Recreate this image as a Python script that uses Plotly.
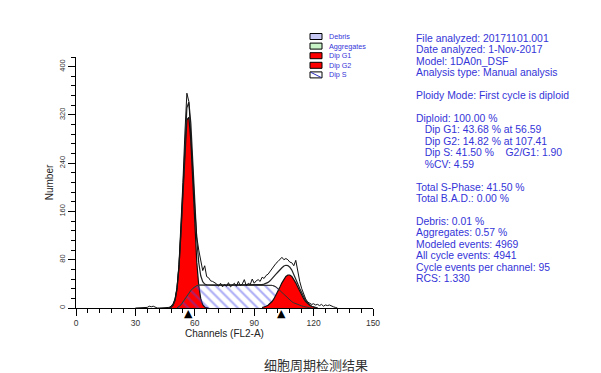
import plotly.graph_objects as go

# ---------------- data ----------------
data_start = 30
data_counts = [0, 0, 0, 0, 0, 0, 1, 3, 2, 3, 1, 0,             # 30-41
               0, 0, 0, 0, 0,                                  # 42-46
               1, 3, 7, 15, 34, 72, 132, 208, 290, 356, 342,   # 47-57
               292, 228, 165, 118, 96, 80, 62, 70, 52, 50,     # 58-67
               45, 44, 42, 40, 36, 41, 35, 39, 36, 42,         # 68-77
               35, 38, 41, 36, 44, 37, 40, 47, 37, 41,         # 78-87
               39, 48, 41, 45, 47, 44, 51, 49, 54, 56,         # 88-97
               61, 66, 70, 74, 77, 81, 84, 80, 82, 80,         # 98-107
               76, 75, 70, 79, 58, 44, 32, 22, 15, 10,         # 108-117
               8, 6, 7, 5, 6, 4, 6, 3, 5, 4,                   # 118-127
               5, 3, 2, 1, 0]                                  # 128-132

g1_start = 47
g1_counts = [0.3, 1.3, 4.5, 12.8, 31.4, 67, 123, 194, 265, 312, 316,
             277, 209, 136, 76, 37, 15.4, 5.6, 1.7, 0.5, 0]

s_start = 51
s_counts = [0, 2, 5, 10, 15, 20, 25, 29, 32.5, 35, 37, 38,          # 51-62
            38, 38, 38, 38, 38, 38, 38, 38, 38, 38,                 # 63-72
            38, 38, 38, 38, 38, 38, 38, 38, 38, 38,                 # 73-82
            38, 38, 38, 38, 38, 38, 38, 38, 38, 38,                 # 83-92
            38, 38, 38, 38, 38, 38,                                 # 93-98
            37.5, 36.5, 35, 32, 29, 25, 22, 18.5, 15.5, 13,         # 99-108
            10.5, 8.5, 7, 5.5, 4.5, 3.5, 2.5, 1.5, 1, 0.5, 0]       # 109-119

g2_start = 94
g2_counts = [0.9, 1.6, 2.8, 4.5, 7.1, 10.7, 15.4, 21.1, 27.7, 34.8, 41.7,
             47.7, 52.3, 54.7, 54.7, 52.3, 47.7, 41.7, 34.8, 27.7, 21.1,
             15.4, 10.7, 7.1, 4.5, 2.8, 1.6, 0.9, 0]

peak_markers = [56.59, 104]

x_ticks = [0, 30, 60, 90, 120, 150]
y_ticks = [0, 80, 160, 240, 320, 400]

legend_items = ["Debris", "Aggregates", "Dip G1", "Dip G2", "Dip S"]
legend_colors = ["#c8c8f4", "#c8f4c8", "#ff0000", "#ff0000", "#ffffff"]

stats_lines = [
    "File analyzed: 20171101.001",
    "Date analyzed: 1-Nov-2017",
    "Model: 1DA0n_DSF",
    "Analysis type: Manual analysis",
    "",
    "Ploidy Mode: First cycle is diploid",
    "",
    "Diploid: 100.00 %",
    "   Dip G1: 43.68 % at 56.59",
    "   Dip G2: 14.82 % at 107.41",
    "   Dip S: 41.50 %    G2/G1: 1.90",
    "   %CV: 4.59",
    "",
    "Total S-Phase: 41.50 %",
    "Total B.A.D.: 0.00 %",
    "",
    "Debris: 0.01 %",
    "Aggregates: 0.57 %",
    "Modeled events: 4969",
    "All cycle events: 4941",
    "Cycle events per channel: 95",
    "RCS: 1.330",
]
caption = "细胞周期检测结果"

# ---------------- derived ----------------
def chans(start, vals):
    return list(range(start, start + len(vals)))

data_x = chans(data_start, data_counts)
g1_x = chans(g1_start, g1_counts)
s_x = chans(s_start, s_counts)
g2_x = chans(g2_start, g2_counts)

model = {}
for xs, ys in ((g1_x, g1_counts), (s_x, s_counts), (g2_x, g2_counts)):
    for a, b in zip(xs, ys):
        model[a] = model.get(a, 0) + b
model_x = sorted(model)
model_y = [model[k] for k in model_x]

# ---------------- layout geometry ----------------
# page has an 8px body margin: work in page pixels and convert
OFF = 8
PAGE_W, PAGE_H = 601, 373
W, H = PAGE_W - OFF, PAGE_H - OFF
PL, PR, PT, PB = 76, 373, 57, 308          # plot area in page pixels
L, T = PL - OFF, PT - OFF
R = W - (PR - OFF)
B = H - (PB - OFF)
PW, PH = PR - PL, PB - PT


def pxx(x):
    return (x - PL) / PW


def pxy(y):
    return (PB - y) / PH


FONT = "Arial, Liberation Sans, sans-serif"
BLUE = "#3434d8"

fig = go.Figure()

# G1 component
fig.add_trace(go.Scatter(x=g1_x, y=g1_counts, mode="lines", fill="tozeroy",
                         fillcolor="#ff0000", line=dict(color="#111", width=1.2),
                         hoverinfo="skip"))
# S component hatched
fig.add_trace(go.Scatter(x=s_x, y=s_counts, mode="lines", fill="tozeroy",
                         fillcolor="rgba(0,0,0,0)",
                         fillpattern=dict(shape="\\", fgcolor="rgba(70,70,235,0.9)",
                                          bgcolor="rgba(0,0,0,0)", size=7, solidity=0.3),
                         line=dict(color="#555", width=1), hoverinfo="skip"))
# G2 component
fig.add_trace(go.Scatter(x=g2_x, y=g2_counts, mode="lines", fill="tozeroy",
                         fillcolor="#ff0000", line=dict(color="#111", width=1.2),
                         hoverinfo="skip"))
# S outline on top
fig.add_trace(go.Scatter(x=s_x, y=s_counts, mode="lines",
                         line=dict(color="#333", width=1), hoverinfo="skip"))
# model
fig.add_trace(go.Scatter(x=model_x, y=model_y, mode="lines",
                         line=dict(color="#222", width=1.2), hoverinfo="skip"))
# data histogram
fig.add_trace(go.Scatter(x=data_x, y=data_counts, mode="lines",
                         line=dict(color="#111", width=1), hoverinfo="skip"))

# peak markers below the axis
for pm in peak_markers:
    fig.add_annotation(xref="x", yref="paper", x=pm, y=pxy(313.5), text="▲",
                       showarrow=False, xanchor="center", yanchor="middle",
                       font=dict(size=11, color="#000", family="DejaVu Sans"))

fig.update_layout(
    width=W, height=H, margin=dict(l=L, r=R, t=T, b=B, autoexpand=False),
    paper_bgcolor="white", plot_bgcolor="white", showlegend=False,
    font=dict(family=FONT, color="#333"),
    xaxis=dict(range=[0, 150], tickvals=x_ticks, showgrid=False, zeroline=False,
               showline=True, linecolor="#000", linewidth=1, ticks="outside",
               ticklen=7, tickcolor="#000", tickfont=dict(size=8.5, color="#333"),
               minor=dict(dtick=6, ticks="outside", ticklen=4, tickcolor="#000"),
               title=dict(text="Channels (FL2-A)", font=dict(size=10, color="#222"),
                          standoff=0)),
    yaxis=dict(range=[0, 416], tickvals=y_ticks, showgrid=False, zeroline=False,
               showline=True, linecolor="#000", linewidth=1, ticks="outside",
               ticklen=7, tickcolor="#000", tickangle=-90,
               tickfont=dict(size=7.5, color="#333"),
               minor=dict(dtick=16, ticks="outside", ticklen=4, tickcolor="#000"),
               title=dict(text="Number", font=dict(size=10, color="#222"), standoff=2)),
)

# legend (drawn manually)
for i, (name, col) in enumerate(zip(legend_items, legend_colors)):
    yc = 36.5 + 9.6 * i
    fig.add_shape(type="rect", xref="paper", yref="paper",
                  x0=pxx(310), x1=pxx(322), y0=pxy(yc + 3), y1=pxy(yc - 3),
                  fillcolor=col, line=dict(color="#000", width=1))
    if name == "Dip S":
        fig.add_shape(type="line", xref="paper", yref="paper",
                      x0=pxx(311), x1=pxx(321), y0=pxy(yc - 2.5), y1=pxy(yc + 2.5),
                      line=dict(color="#3030c0", width=1))
    fig.add_annotation(xref="paper", yref="paper", x=pxx(326.5), y=pxy(yc),
                       text=name, showarrow=False, xanchor="left", yanchor="middle",
                       font=dict(size=7.2, color=BLUE, family=FONT))

# stats text
for i, line in enumerate(stats_lines):
    if not line:
        continue
    fig.add_annotation(xref="paper", yref="paper", x=pxx(414), y=pxy(38.5 + 11.43 * i),
                       text=line.replace(" ", "&nbsp;") if line.startswith(" ") else line,
                       showarrow=False, xanchor="left", yanchor="middle",
                       font=dict(size=10.4, color=BLUE, family=FONT))

fig.add_annotation(xref="paper", yref="paper", x=pxx(316), y=pxy(364), text=caption,
                   showarrow=False, xanchor="center", yanchor="middle",
                   font=dict(size=13, color="#333", family="Noto Sans CJK SC"))

fig.write_html("out.html")
